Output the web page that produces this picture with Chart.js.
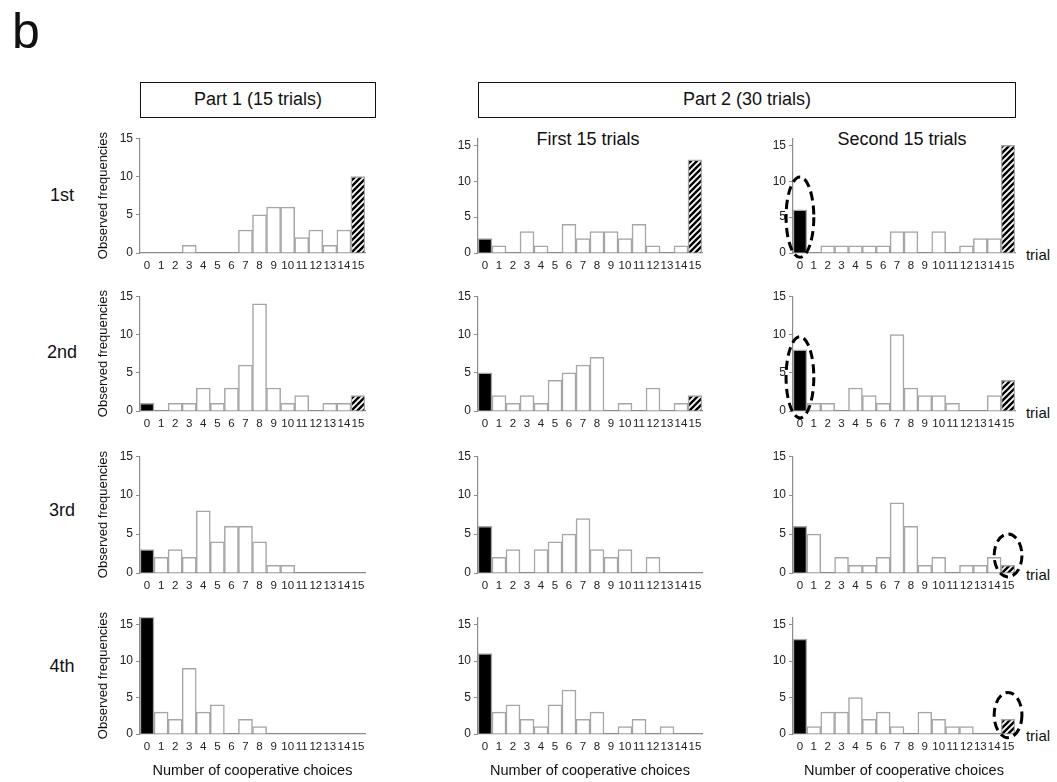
<!DOCTYPE html>
<html>
<head>
<meta charset="utf-8">
<script src="https://cdn.jsdelivr.net/npm/chart.js@4.4.1/dist/chart.umd.min.js"></script>
<style>
  body { margin: 0; background: #fff; font-family: "Liberation Sans", Arial, sans-serif; }
  #page { position: relative; width: 1057px; height: 782px; overflow: hidden; }
  .lbl { position: absolute; color: #111; white-space: nowrap; }
  .mid { transform: translate(-50%, -50%); }
  .box { position: absolute; border: 1.5px solid #111; box-sizing: border-box; text-align: center; font-size: 18px; color: #111; }
  canvas { position: absolute; }
</style>
</head>
<body>
<div id="page">
  <div class="lbl" style="left:12px; top:2px; font-size:50px;">b</div>
  <div class="box" style="left:140px; top:82px; width:236px; height:36px; line-height:33px;">Part 1 (15 trials)</div>
  <div class="box" style="left:478px; top:82px; width:538px; height:36px; line-height:33px;">Part 2 (30 trials)</div>
</div>
<script>
"use strict";

// data
const categories = ["0","1","2","3","4","5","6","7","8","9","10","11","12","13","14","15"];
const yTicks = [0, 5, 10, 15];
const rowNames = ["1st", "2nd", "3rd", "4th"];
const subTitles = ["First 15 trials", "Second 15 trials"];

const part1Round1 = [0,0,0,1,0,0,0,3,5,6,6,2,3,1,3,10];
const firstRound1 = [2,1,0,3,1,0,4,2,3,3,2,4,1,0,1,13];
const secondRound1 = [6,0,1,1,1,1,1,3,3,0,3,0,1,2,2,15];

const part1Round2 = [1,0,1,1,3,1,3,6,14,3,1,2,0,1,1,2];
const firstRound2 = [5,2,1,2,1,4,5,6,7,0,1,0,3,0,1,2];
const secondRound2 = [8,1,1,0,3,2,1,10,3,2,2,1,0,0,2,4];

const part1Round3 = [3,2,3,2,8,4,6,6,4,1,1,0,0,0,0,0];
const firstRound3 = [6,2,3,0,3,4,5,7,3,2,3,0,2,0,0,0];
const secondRound3 = [6,5,0,2,1,1,2,9,6,1,2,0,1,1,2,1];

const part1Round4 = [16,3,2,9,3,4,0,2,1,0,0,0,0,0,0,0];
const firstRound4 = [11,3,4,2,1,4,6,2,3,0,1,2,0,1,0,0];
const secondRound4 = [13,1,3,3,5,2,3,1,0,3,2,1,1,0,0,2];

const yMax = [[15,16,16],[15,15,15],[15,15,15],[16,16,16]];

// dashed rings in the right column: category and value span
const ringCats = [0, 0, 15, 15];
const ringLow = [-0.6, -0.9, -0.5, -0.5];
const ringHigh = [10.6, 9.7, 5, 5.7];

const panels = [
  [part1Round1, firstRound1, secondRound1],
  [part1Round2, firstRound2, secondRound2],
  [part1Round3, firstRound3, secondRound3],
  [part1Round4, firstRound4, secondRound4]
];

// layout
const axisX = [140, 478, 793];
const plotRight = [365, 702, 1015];
const zeroY = [253, 411, 573, 734];
const plotH = [115, 115, 117, 117];

let page = document.getElementById("page");

function addLabel(text, x, y, size) {
  let d = document.createElement("div");
  d.className = "lbl mid";
  d.style.left = x + "px";
  d.style.top = y + "px";
  d.style.fontSize = size + "px";
  d.textContent = text;
  page.appendChild(d);
}

addLabel(subTitles[0], 588, 139, 18);
addLabel(subTitles[1], 902, 139, 18);
let rowY = [195, 352, 510, 666];
for (let r = 0; r < 4; r++) {
  addLabel(rowNames[r], 62, rowY[r], 18);
  addLabel("trial", 1038, zeroY[r] + 1, 15);
}

function makeHatch() {
  let s = 6;
  let c = document.createElement("canvas");
  c.width = s;
  c.height = s;
  let ctx = c.getContext("2d");
  ctx.fillStyle = "#fff";
  ctx.fillRect(0, 0, s, s);
  ctx.strokeStyle = "#000";
  ctx.lineWidth = 2.4;
  ctx.beginPath();
  ctx.moveTo(0, s); ctx.lineTo(s, 0);
  ctx.moveTo(-s / 2, s / 2); ctx.lineTo(s / 2, -s / 2);
  ctx.moveTo(s / 2, s * 1.5); ctx.lineTo(s * 1.5, s / 2);
  ctx.stroke();
  return c;
}
let hatchTile = makeHatch();

const ringPlugin = {
  id: "ring",
  afterDraw(chart, args, opts) {
    if (opts.cat === undefined) return;
    let x = chart.scales.x;
    let y = chart.scales.y;
    let cx = x.getPixelForValue(opts.cat);
    let rx = Math.abs(x.getPixelForValue(1) - x.getPixelForValue(0));
    let top = y.getPixelForValue(opts.high);
    let bottom = y.getPixelForValue(opts.low);
    let ctx = chart.ctx;
    ctx.save();
    ctx.strokeStyle = "#000";
    ctx.lineWidth = 3;
    ctx.setLineDash([9, 5]);
    ctx.beginPath();
    ctx.ellipse(cx, (top + bottom) / 2, rx, (bottom - top) / 2, 0, 0, Math.PI * 2);
    ctx.stroke();
    ctx.restore();
  }
};

function makePanel(r, c) {
  let canvas = document.createElement("canvas");
  let yW = c === 0 ? 48 : 30;
  let xH = r === 3 ? 50 : 22;
  let padTop = 10;
  let padRight = 14;
  let plotW = plotRight[c] - axisX[c];
  canvas.width = yW + plotW + padRight;
  canvas.height = padTop + plotH[r] + xH;
  canvas.style.left = (axisX[c] - yW) + "px";
  canvas.style.top = (zeroY[r] - plotH[r] - padTop) + "px";
  page.appendChild(canvas);

  let hatch = canvas.getContext("2d").createPattern(hatchTile, "repeat");
  let values = panels[r][c];
  let fills = values.map(function (v, i) {
    if (i === 0) return "#000";
    if (i === categories.length - 1) return hatch;
    return "#fff";
  });

  let ring = {};
  if (c === 2) {
    ring = { cat: ringCats[r], low: ringLow[r], high: ringHigh[r] };
  }

  let chart = new Chart(canvas, {
    type: "bar",
    data: {
      labels: categories,
      datasets: [{
        data: values,
        backgroundColor: fills,
        borderColor: "#a6a6a6",
        borderWidth: 1.5,
        categoryPercentage: 1,
        barPercentage: 1
      }]
    },
    options: {
      responsive: false,
      animation: false,
      layout: { padding: { top: padTop, right: padRight, left: 0, bottom: 0 } },
      plugins: {
        legend: { display: false },
        tooltip: { enabled: false },
        ring: ring
      },
      scales: {
        x: {
          grid: { display: false, drawTicks: false },
          border: { display: true, color: "#8c8c8c", width: 1.2 },
          ticks: {
            autoSkip: false, maxRotation: 0, padding: 6,
            color: "#222", font: { size: 11.5, family: "Liberation Sans" }
          },
          title: {
            display: r === 3,
            text: "Number of cooperative choices",
            color: "#111",
            font: { size: 14.5, family: "Liberation Sans" }
          },
          afterFit(scale) { scale.height = xH; }
        },
        y: {
          min: 0,
          max: yMax[r][c],
          grid: { display: true, drawOnChartArea: false, drawTicks: true, tickLength: 4, color: "#8c8c8c" },
          border: { display: true, color: "#8c8c8c", width: 1.2 },
          ticks: { padding: 3, color: "#222", font: { size: 12, family: "Liberation Sans" } },
          title: {
            display: c === 0,
            text: "Observed frequencies",
            color: "#111",
            font: { size: 13, family: "Liberation Sans" }
          },
          afterBuildTicks(scale) {
            scale.ticks = yTicks.map(function (v) { return { value: v }; });
          },
          afterFit(scale) { scale.width = yW; }
        }
      }
    },
    plugins: [ringPlugin]
  });

  let ca = chart.chartArea;
  canvas.style.left = (axisX[c] - ca.left) + "px";
  canvas.style.top = (zeroY[r] - ca.bottom) + "px";
}

for (let r = 0; r < 4; r++) {
  for (let c = 0; c < 3; c++) {
    makePanel(r, c);
  }
}
</script>
</body>
</html>
